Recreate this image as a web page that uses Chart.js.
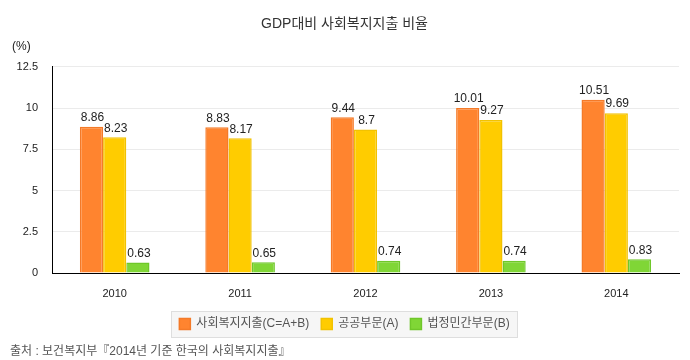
<!DOCTYPE html>
<html>
<head>
<meta charset="utf-8">
<script src="https://cdn.jsdelivr.net/npm/chart.js@4.4.1/dist/chart.umd.min.js"></script>
<style>
  html, body { margin: 0; padding: 0; background: #fff; }
  #wrap { position: relative; width: 690px; height: 360px; }
  #source { position: absolute; left: 10px; top: 341px; font: 12px "Liberation Sans", "Noto Sans CJK KR", sans-serif; color: #555; white-space: nowrap; }
</style>
</head>
<body>
<div id="wrap">
  <canvas id="c" width="690" height="360"></canvas>
  <div id="source">출처 : 보건복지부『2014년 기준 한국의 사회복지지출』</div>
</div>
<script>
const categories = ["2010", "2011", "2012", "2013", "2014"];
const seriesNames = ["사회복지지출(C=A+B)", "공공부문(A)", "법정민간부문(B)"];
const totalValues = [8.86, 8.83, 9.44, 10.01, 10.51];
const publicValues = [8.23, 8.17, 8.7, 9.27, 9.69];
const privateValues = [0.63, 0.65, 0.74, 0.74, 0.83];
const yTickLabels = ["0", "2.5", "5", "7.5", "10", "12.5"];

const FONT = '"Liberation Sans", "Noto Sans CJK KR", sans-serif';

const valueLabels = {
  id: 'valueLabels',
  afterDatasetsDraw(chart) {
    const ctx = chart.ctx;
    ctx.save();
    ctx.font = '12px ' + FONT;
    ctx.fillStyle = '#222';
    ctx.textAlign = 'center';
    ctx.textBaseline = 'bottom';
    chart.data.datasets.forEach((ds, i) => {
      const meta = chart.getDatasetMeta(i);
      meta.data.forEach((bar, j) => {
        ctx.fillText(String(ds.data[j]), bar.x + 1, bar.y - 3);
      });
    });
    ctx.restore();
  }
};

const extras = {
  id: 'extras',
  beforeDraw(chart) {
    const ctx = chart.ctx;
    const lg = chart.legend;
    if (lg && lg.legendHitBoxes && lg.legendHitBoxes.length) {
      const boxes = lg.legendHitBoxes;
      const l = Math.min(...boxes.map(b => b.left)) - 8;
      const r = Math.max(...boxes.map(b => b.left + b.width)) + 8;
      const t = Math.min(...boxes.map(b => b.top)) - 7;
      const bt = Math.max(...boxes.map(b => b.top + b.height)) + 7;
      ctx.save();
      ctx.fillStyle = '#f6f6f6';
      ctx.fillRect(l, t, r - l, bt - t);
      ctx.strokeStyle = '#dedede';
      ctx.lineWidth = 1;
      ctx.strokeRect(Math.round(l) + 0.5, Math.round(t) + 0.5, Math.round(r - l), Math.round(bt - t));
      ctx.restore();
    }
  },
  afterDraw(chart) {
    const ctx = chart.ctx;
    const y = chart.scales.y;
    ctx.save();
    ctx.font = '12px ' + FONT;
    ctx.fillStyle = '#222';
    ctx.textAlign = 'left';
    ctx.textBaseline = 'middle';
    ctx.fillText('(%)', 12, y.top - 20);
    ctx.restore();
  }
};

new Chart(document.getElementById('c'), {
  type: 'bar',
  data: {
    labels: categories,
    datasets: [
      { label: seriesNames[0], data: totalValues, backgroundColor: '#FF842F', borderColor: '#F47A28', borderWidth: 1.5 },
      { label: seriesNames[1], data: publicValues, backgroundColor: '#FFCC00', borderColor: '#F2C200', borderWidth: 1.5 },
      { label: seriesNames[2], data: privateValues, backgroundColor: '#80D636', borderColor: '#6FC72A', borderWidth: 1.5 }
    ]
  },
  options: {
    responsive: false,
    animation: false,
    devicePixelRatio: 1,
    layout: { padding: { left: 10, right: 11, top: 0, bottom: 20 } },
    datasets: { bar: { categoryPercentage: 0.555, barPercentage: 1.0 } },
    plugins: {
      title: {
        display: true,
        text: 'GDP대비 사회복지지출 비율',
        color: '#333',
        font: { family: FONT, size: 14, weight: 'normal' },
        padding: { top: 16, bottom: 34 }
      },
      legend: {
        position: 'bottom',
        labels: {
          color: '#555',
          font: { family: FONT, size: 12 },
          boxWidth: 11,
          boxHeight: 11,
          padding: 12
        }
      },
      tooltip: { enabled: false }
    },
    scales: {
      x: {
        grid: { display: false, drawTicks: false },
        border: { color: '#000', width: 1 },
        ticks: { color: '#222', font: { family: FONT, size: 11 }, padding: 14 },
        afterFit(s) { s.height = 33; }
      },
      y: {
        min: 0, max: 12.5,
        ticks: {
          stepSize: 2.5,
          color: '#222',
          font: { family: FONT, size: 11 },
          padding: 14,
          callback: (v, i) => yTickLabels[i]
        },
        grid: { color: '#ebebeb', drawTicks: false },
        border: { color: '#000', width: 1 },
        afterFit(s) { s.width = 42; }
      }
    }
  },
  plugins: [extras, valueLabels]
});
</script>
</body>
</html>
